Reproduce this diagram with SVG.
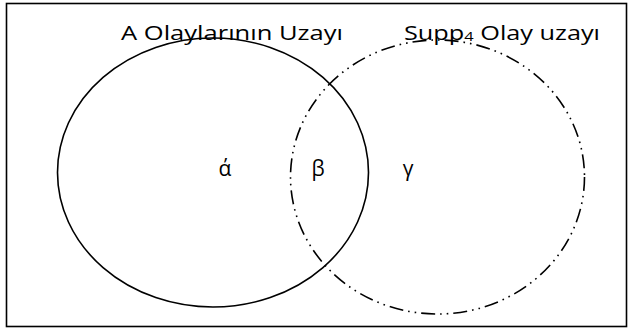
<svg xmlns="http://www.w3.org/2000/svg" width="630" height="331" viewBox="0 0 630 331">
<style>
.lbl{font-family:"Open Sans","Liberation Sans",sans-serif;font-size:20px;fill:#000}
.g{font-family:"Open Sans","Liberation Sans",sans-serif;font-size:21px;fill:#000;text-anchor:middle}
.solid{fill:none;stroke:#000;stroke-width:1.6}
.dashdot{fill:none;stroke:#000;stroke-width:1.6;stroke-dasharray:14 5 1.6 5 1.6 5}
</style>
<rect x="0" y="0" width="630" height="331" fill="#fff"/>
<rect id="frame" x="6.5" y="3.5" width="620" height="323" fill="none" stroke="#000" stroke-width="1.6"/>
<g id="setA">
<ellipse class="solid" cx="213" cy="172.5" rx="155.5" ry="134.5"/>
</g>
<g id="setSupp">
<ellipse class="dashdot" cx="437.5" cy="177" rx="147" ry="137"/>
</g>
<g id="labels">
<text class="lbl" x="121" y="40" textLength="222" lengthAdjust="spacingAndGlyphs">A Olaylarının Uzayı</text>
<text class="lbl" x="404" y="40" textLength="196" lengthAdjust="spacingAndGlyphs">Supp<tspan font-size="13" dy="1">4</tspan><tspan dy="-1"> Olay uzayı</tspan></text>
</g>
<g id="regions">
<text class="g" x="225" y="176">ά</text>
<text class="g" x="318" y="176">β</text>
<text class="g" x="408" y="176">γ</text>
</g>
</svg>
